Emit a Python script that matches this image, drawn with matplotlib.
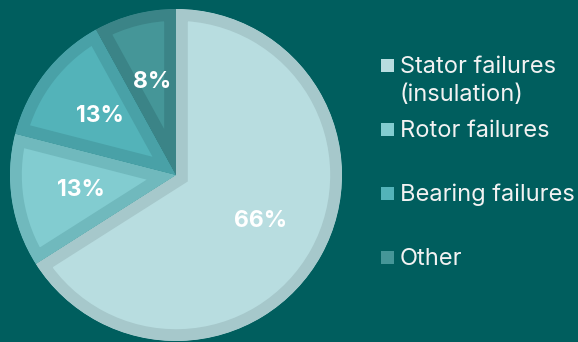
import matplotlib.pyplot as plt

labels = ["Stator failures\n(insulation)", "Rotor failures", "Bearing failures", "Other"]
shares = [66, 13, 13, 8]
fills = ["#b8dde0", "#82ccd0", "#53b3b9", "#459698"]
borders = ["#a6c8cb", "#70b9bd", "#49a1a7", "#3b8487"]
bg = "#005e5e"
font = ["Inter", "DejaVu Sans"]

W, H = 578, 342
fig = plt.figure(figsize=(W / 100, H / 100), dpi=100, facecolor=bg)

# pie axes: centre (176, 175) px, radius 166 px
cx, cy, r = 176, 175, 166
ax = fig.add_axes([(cx - r) / W, (H - cy - r) / H, 2 * r / W, 2 * r / H])
ax.set_facecolor(bg)

wedges, _, autotexts = ax.pie(
    shares, colors=fills, startangle=90, counterclock=False,
    autopct="%d%%", pctdistance=0.58,
    wedgeprops=dict(linewidth=17, joinstyle="miter"),
    textprops=dict(color="white", fontsize=16.5, fontweight="bold", family=font),
)
for w, ec in zip(wedges, borders):
    w.set_edgecolor(ec)
    w.set_clip_on(True)
    w.set_clip_path(w)  # keep only the inner half of the border
ax.set_xlim(-1, 1)
ax.set_ylim(-1, 1)
ax.set_aspect("equal")
ax.axis("off")

# legend on the right, one slot of 64 px per item
for i, (lab, col) in enumerate(zip(labels, fills)):
    base = 73 + 64 * i
    fig.patches.append(plt.Rectangle((381 / W, 1 - (base - 1) / H), 13 / W, 13 / H,
                                     transform=fig.transFigure, facecolor=col,
                                     edgecolor="none"))
    for j, line in enumerate(lab.split("\n")):
        fig.text(400 / W, 1 - (base + 28 * j) / H, line, color="#f2f2f2",
                 fontsize=17, family=font, va="baseline", ha="left")

fig.savefig("out.png", dpi=100, facecolor=bg)
